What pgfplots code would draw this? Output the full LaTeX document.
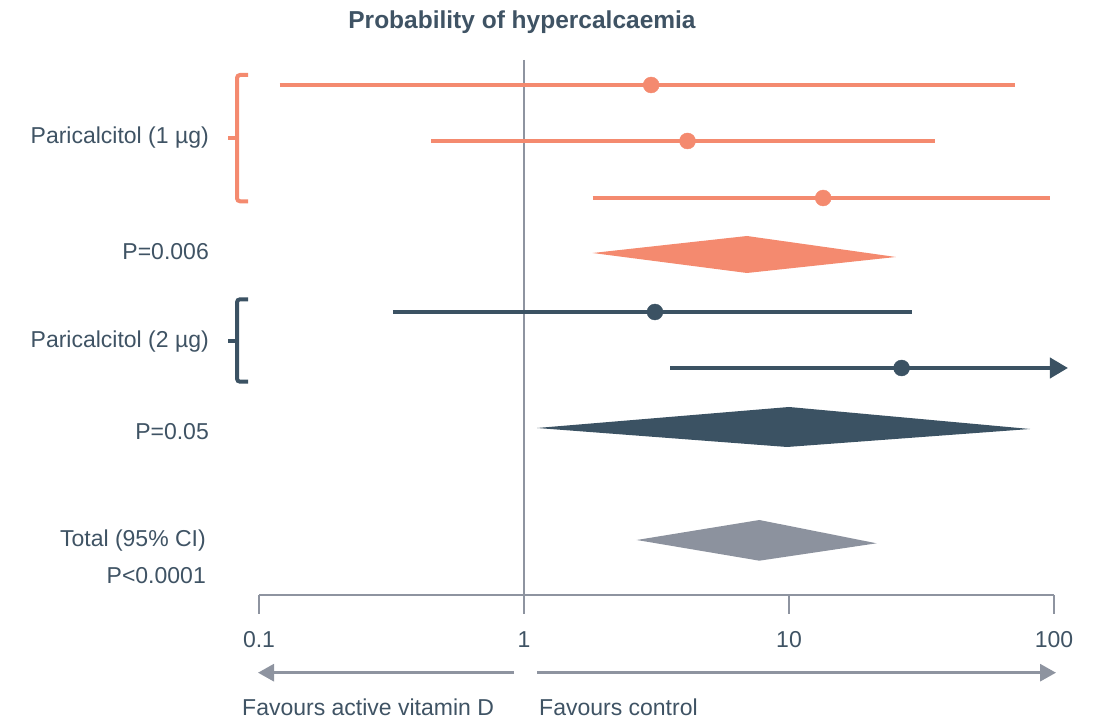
\documentclass[border=0pt]{standalone}
\usepackage{pgfplots}
\pgfplotsset{compat=1.18}
\usepackage{fontspec}
\setmainfont{Liberation Sans}
\usetikzlibrary{arrows.meta}
\definecolor{salmon}{HTML}{F48A6F}
\definecolor{slate}{HTML}{3B5263}
\definecolor{greyd}{HTML}{8E94A0}
\definecolor{totg}{HTML}{8C929E}
\definecolor{txt}{HTML}{3F5364}
\begin{document}
\fontsize{23}{27}\selectfont
\begin{tikzpicture}[x=1pt,y=1pt]
\useasboundingbox (0,0) rectangle (1097,722);
\begin{axis}[
  at={(259pt,127pt)}, anchor=south west,
  scale only axis, width=795pt, height=595pt,
  xmode=log, xmin=0.1, xmax=100, ymin=127, ymax=722,
  axis y line=none, axis x line*=bottom,
  x axis line style={greyd, line width=2.5pt},
  xtick={0.1,1,10,100}, xticklabels={0.1,1,10,100},
  xminorticks=false, tick align=outside, major tick length=19pt,
  xtick style={greyd, line width=2.5pt},
  xticklabel style={txt, font=\fontsize{23}{27}\selectfont, anchor=base, yshift=-34pt},
  /pgf/number format/assume math mode=true,
  clip=false,
]
% reference line at 1
\addplot[greyd, line width=2pt] coordinates {(1,662) (1,108)};
% Paricalcitol 1 ug studies
\addplot[salmon, line width=4pt] coordinates {(0.1195,637) (71.1,637)};
\addplot[salmon, line width=4pt] coordinates {(0.446,581) (35.7,581)};
\addplot[salmon, line width=4pt] coordinates {(1.815,524) (96.3,524)};
\addplot[only marks, mark=*, mark size=8pt, salmon] coordinates {(3.02,637) (4.14,581) (13.46,524)};
% pooled 1 ug
\addplot[fill=salmon, draw=none] coordinates {(1.815,469) (6.94,486) (25.3,465) (6.94,449)} -- cycle;
% Paricalcitol 2 ug studies
\addplot[slate, line width=4pt] coordinates {(0.32,410) (29.0,410)};
\addplot[slate, line width=4pt, -{Triangle[length=18pt,width=20pt]}] coordinates {(3.56,354) (112.9,354)};
\addplot[only marks, mark=*, mark size=8pt, slate] coordinates {(3.12,410) (26.6,354)};
% pooled 2 ug
\addplot[fill=slate, draw=none] coordinates {(1.12,294) (10.0,315) (81.2,293) (9.83,275)} -- cycle;
% total
\addplot[fill=totg, draw=none] coordinates {(2.663,182) (7.73,202) (21.4,178.7) (7.73,161.3)} -- cycle;
\end{axis}
% title
\node[anchor=base, txt, font=\fontsize{24.5}{28}\selectfont\bfseries] at (522,693) {Probability of hypercalcaemia};
% brackets
\draw[salmon, line width=4pt, rounded corners=3pt] (248,647) -- (237,647) -- (237,520.7) -- (248,520.7);
\draw[salmon, line width=4pt] (237,584.3) -- (228,584.3);
\draw[slate, line width=4pt, rounded corners=3pt] (248,422.7) -- (237,422.7) -- (237,340.3) -- (248,340.3);
\draw[slate, line width=4pt] (237,381) -- (228,381);
% row labels
\node[anchor=base east, txt, inner sep=0pt] at (209,578.7) {Paricalcitol (1 µg)};
\node[anchor=base east, txt, inner sep=0pt] at (209,462) {P=0.006};
\node[anchor=base east, txt, inner sep=0pt] at (209,374.3) {Paricalcitol (2 µg)};
\node[anchor=base east, txt, inner sep=0pt] at (209,282) {P=0.05};
\node[anchor=base east, txt, inner sep=0pt] at (206,175.3) {Total (95\% CI)};
\node[anchor=base east, txt, inner sep=0pt] at (206,138) {P<0.0001};
% favours arrows
\draw[greyd, line width=3pt, -{Triangle[length=16pt,width=17pt]}] (514,49.3) -- (258,49.3);
\draw[greyd, line width=3pt, -{Triangle[length=16pt,width=17pt]}] (537,49.3) -- (1056,49.3);
\node[anchor=base west, txt, inner sep=0pt] at (242,6) {Favours active vitamin D};
\node[anchor=base west, txt, inner sep=0pt] at (539,6) {Favours control};
\end{tikzpicture}
\end{document}
